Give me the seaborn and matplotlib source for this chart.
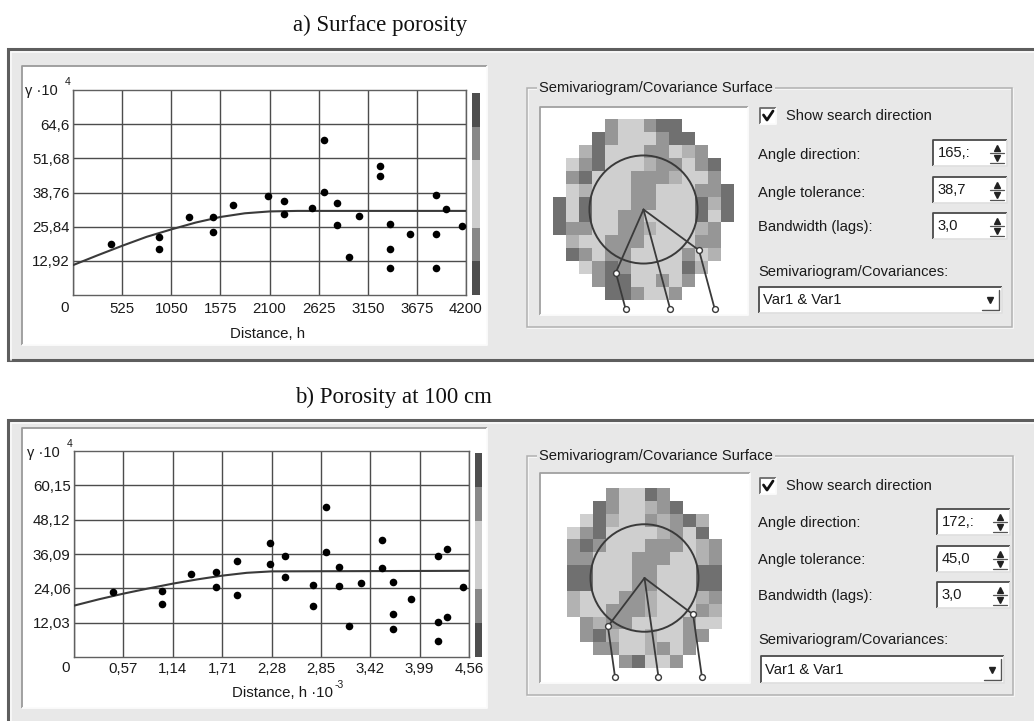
"""Semivariogramas de porosidad (superficie y 100 cm) con el panel de superficie de covarianza."""

import matplotlib

matplotlib.use("Agg")
import matplotlib.pyplot as plt
import numpy as np
import seaborn as sns
from matplotlib.colors import ListedColormap
from matplotlib.patches import Circle, Rectangle

W, H = 1034, 721

# ---------------- a) Surface porosity ----------------
dist_a = [406, 922, 922, 1240, 1500, 1500, 1713, 2080, 2255, 2255, 2551, 2686, 2686, 2818,
          2818, 2946, 3056, 3281, 3281, 3391, 3391, 3391, 3598, 3880, 3880, 3880, 3983, 4154]
gamma_a = [19.3, 22.1, 17.5, 29.5, 29.5, 23.7, 33.9, 37.3, 35.7, 30.5, 32.8, 58.6, 38.9, 34.9,
           26.3, 14.2, 29.9, 48.7, 45.1, 27.0, 17.5, 10.2, 23.2, 37.7, 23.2, 10.2, 32.6, 26.1]
model_dist_a = [0, 262, 525, 787, 1050, 1312, 1575, 1837, 2100, 2400, 4200]
model_gamma_a = [11.3, 15.0, 18.6, 22.0, 24.8, 27.4, 29.5, 30.9, 31.6, 31.8, 31.8]
xticks_a = [0, 525, 1050, 1575, 2100, 2625, 3150, 3675, 4200]
xticklabels_a = ["", "525", "1050", "1575", "2100", "2625", "3150", "3675", "4200"]
yticks_a = [12.92, 25.84, 38.76, 51.68, 64.6]
yticklabels_a = ["12,92", "25,84", "38,76", "51,68", "64,6"]
ymax_a = 77.52
surface_a = [
    "....311344....",
    "...43111344...",
    "..2411133123..",
    ".134111233134.",
    ".341113332113.",
    ".1211133111334",
    "41411133111424",
    "41411331111414",
    "4331133211123.",
    ".211333111133.",
    ".431331111312.",
    "..1343111142..",
    "...34411313...",
    "....443113....",
]
angle_dir_a, angle_tol_a = 165.0, 38.7
spin_text_a = ["165,:", "38,7", "3,0"]

# ---------------- b) Porosity at 100 cm ----------------
dist_b = [0.446, 1.011, 1.011, 1.353, 1.634, 1.634, 1.876, 1.876, 2.268, 2.268, 2.441, 2.441,
          2.761, 2.761, 2.907, 2.907, 3.064, 3.064, 3.180, 3.318, 3.560, 3.560, 3.683, 3.683,
          3.683, 3.891, 4.202, 4.202, 4.202, 4.306, 4.306, 4.491]
gamma_b = [22.7, 23.3, 18.5, 29.1, 29.9, 24.4, 33.8, 21.8, 40.0, 32.6, 35.4, 27.9,
           25.3, 18.0, 52.5, 36.8, 31.7, 24.9, 10.7, 25.8, 41.0, 31.3, 26.4, 15.0,
           9.8, 20.3, 35.4, 12.3, 5.6, 37.8, 13.9, 24.4]
model_dist_b = [0, 0.285, 0.57, 0.855, 1.14, 1.425, 1.71, 1.995, 2.28, 4.56]
model_gamma_b = [18.0, 20.2, 22.2, 24.0, 25.7, 27.2, 28.5, 29.5, 30.0, 30.2]
xticks_b = [0, 0.57, 1.14, 1.71, 2.28, 2.85, 3.42, 3.99, 4.56]
xticklabels_b = ["", "0,57", "1,14", "1,71", "2,28", "2,85", "3,42", "3,99", "4,56"]
yticks_b = [12.03, 24.06, 36.09, 48.12, 60.15]
yticklabels_b = ["12,03", "24,06", "36,09", "48,12", "60,15"]
ymax_b = 72.18
surface_b = [
    "...31143....",
    "..4311234...",
    ".1421132342.",
    "13411112314.",
    "343111333123",
    "331113331123",
    "441113311144",
    "441113311144",
    "211133211123",
    "211333211132",
    ".32331111311",
    ".3421121133.",
    "..33112313..",
    "....34113...",
]
angle_dir_b, angle_tol_b = 172.0, 45.0
spin_text_b = ["172,:", "45,0", "3,0"]

# escala de grises (1 claro -> 4 oscuro) y barra lateral de la leyenda
surface_greys = ["#cfcfcf", "#b2b2b2", "#969696", "#707070"]
strip_levels = [3, 2, 1, 1, 2, 3]
strip_greys = ["#cdcdcd", "#888888", "#4e4e4e"]

PANEL_BG = "#e8e8e8"
INK = "#1a1a1a"
LINE = "#3a3a3a"

# geometria de la ventana en pixeles (x0, y0, x1, y1)
LAYOUT = {
    "a": dict(title="a) Surface porosity", title_xy=(293, 25), frame=(8, 49, 1045, 360),
              white=(22, 66, 487, 345), plot=(73, 90, 466, 295), strip=(472, 93, 480, 295),
              gbox=(527, 88, 1012, 327), surf_box=(540, 107, 748, 315), surf=(553, 119, 734, 300),
              check_y=116, label_ys=(155, 193, 227, 272), spin_ys=(140, 177, 213),
              spin_x=(933, 1007), combo=(759, 287, 1002, 313), zero_xy=(65, 308),
              xlabel_xy=(268, 334), gamma_xy=(25, 91), tick_pad=5.0),
    "b": dict(title="b) Porosity at 100 cm", title_xy=(295, 397), frame=(8, 420, 1045, 740),
              white=(22, 428, 487, 708), plot=(74, 451, 469, 657), strip=(475, 453, 482, 657),
              gbox=(527, 456, 1013, 695), surf_box=(540, 473, 750, 683), surf=(567, 488, 722, 668),
              check_y=486, label_ys=(523, 560, 596, 640), spin_ys=(509, 546, 582),
              spin_x=(937, 1010), combo=(761, 656, 1004, 683), zero_xy=(66, 668),
              xlabel_xy=(282, 693), gamma_xy=(27, 453), tick_pad=3.6),
}

SEARCH_RADIUS = 4.18  # celdas
BAND_HALF = 3.33      # celdas
LINE_DEPTH = 7.68     # celdas bajo el centro

sns.set_style("white")
plt.rcParams["font.family"] = ["Liberation Sans", "DejaVu Sans"]

fig = plt.figure(figsize=(W / 100, H / 100), dpi=100)
fig.patch.set_facecolor("white")
bg = fig.add_axes([0, 0, 1, 1])
bg.set_xlim(0, W)
bg.set_ylim(H, 0)
bg.axis("off")


def px_axes(box):
    x0, y0, x1, y1 = box
    return fig.add_axes([x0 / W, 1 - y1 / H, (x1 - x0) / W, (y1 - y0) / H])


def sunken(box, face="white", dark="#8a8a8a", light="#fbfbfb", lw=1.3):
    x0, y0, x1, y1 = box
    bg.add_patch(Rectangle((x0, y0), x1 - x0, y1 - y0, facecolor=face, edgecolor="none"))
    bg.plot([x0, x0, x1], [y1, y0, y0], color=dark, lw=lw, solid_capstyle="butt")
    bg.plot([x0, x1, x1], [y1, y1, y0], color=light, lw=lw, solid_capstyle="butt")


def parse_surface(rows):
    return np.array([[np.nan if ch == "." else float(ch) for ch in r] for r in rows])


def draw_search(ax, n_rows, n_cols, azimuth, tolerance):
    cx, cy = n_cols / 2, n_rows / 2
    ax.add_patch(Circle((cx, cy), SEARCH_RADIUS, fill=False, edgecolor=LINE, lw=1.4, clip_on=False))
    th = np.radians(azimuth)
    d = np.array([np.sin(th), -np.cos(th)])
    end_y = cy + LINE_DEPTH
    mk = dict(marker="o", markersize=4.2, markerfacecolor="white", markeredgecolor=LINE,
              markeredgewidth=1.0, clip_on=False)
    t = LINE_DEPTH / d[1]
    ax.plot([cx, cx + t * d[0]], [cy, end_y], color=LINE, lw=1.3, markevery=[1], **mk)
    length = BAND_HALF / np.sin(np.radians(tolerance))
    for sign in (1, -1):
        a = np.radians(azimuth + sign * tolerance)
        px, py = cx + length * np.sin(a), cy - length * np.cos(a)
        t = (end_y - py) / d[1]
        ax.plot([cx, px, px + t * d[0]], [cy, py, end_y], color=LINE, lw=1.3,
                markevery=[1, 2], **mk)


def draw_panel(L, dist, gamma, mdist, mgamma, xticks, xlabels, yticks, ylabels, ymax,
               surface, azimuth, tolerance, spin_text, sup_text, xlabel):
    # marco de la ventana
    fx0, fy0, fx1, fy1 = L["frame"]
    bg.add_patch(Rectangle((fx0, fy0), fx1 - fx0, fy1 - fy0, facecolor=PANEL_BG,
                           edgecolor="#5e5e5e", lw=2.2))
    bg.plot([fx0 + 3, fx0 + 3, fx1], [fy1, fy0 + 3, fy0 + 3], color="#fafafa", lw=1.2)
    bg.text(*L["title_xy"], L["title"], family=["Liberation Serif", "DejaVu Serif"],
            fontsize=16.5, color="#111111", ha="left", va="center")

    sunken(L["white"], dark="#9a9a9a")

    # semivariograma
    ax = px_axes(L["plot"])
    sns.scatterplot(x=dist, y=gamma, color="black", s=30, linewidth=0, ax=ax, zorder=4)
    sns.lineplot(x=mdist, y=mgamma, color="#3a3a3a", lw=1.5, ax=ax, zorder=3)
    ax.set_xlim(xticks[0], xticks[-1])
    ax.set_ylim(0, ymax)
    ax.set_xticks(xticks)
    ax.set_xticklabels(xlabels)
    ax.set_yticks(yticks)
    ax.set_yticklabels(ylabels)
    ax.tick_params(axis="x", length=0, pad=L["tick_pad"], labelsize=10.8, labelcolor=INK)
    ax.tick_params(axis="y", length=0, pad=2.5, labelsize=10.8, labelcolor=INK)
    ax.grid(True, color="#4c4c4c", lw=1.0)
    ax.set_axisbelow(True)
    for sp in ax.spines.values():
        sp.set_color("#606060")
        sp.set_linewidth(1.0)
    ax.set_xlabel("")
    ax.set_ylabel("")
    bg.text(*L["zero_xy"], "0", fontsize=10.8, color=INK, ha="center", va="center")
    gx, gy = L["gamma_xy"]
    bg.text(gx, gy, "γ ·10", fontsize=10.5, color=INK, ha="left", va="center")
    bg.text(gx + 40, gy - 9, "4", fontsize=7.5, color=INK, ha="left", va="center")
    lx, ly = L["xlabel_xy"]
    bg.text(lx, ly, xlabel, fontsize=10.8, color=INK, ha="center", va="center")
    if sup_text:
        bg.text(lx + 53, ly - 8, sup_text, fontsize=7.5, color=INK, ha="left", va="center")

    # barra de leyenda
    sax = px_axes(L["strip"])
    sns.heatmap(np.array(strip_levels, dtype=float).reshape(-1, 1),
                cmap=ListedColormap(strip_greys), vmin=0.5, vmax=3.5, cbar=False,
                xticklabels=False, yticklabels=False, ax=sax)

    # grupo "Semivariogram/Covariance Surface"
    gx0, gy0, gx1, gy1 = L["gbox"]
    bg.add_patch(Rectangle((gx0 + 1, gy0 + 1), gx1 - gx0, gy1 - gy0, fill=False,
                           edgecolor="#fbfbfb", lw=1.1))
    bg.add_patch(Rectangle((gx0, gy0), gx1 - gx0, gy1 - gy0, fill=False,
                           edgecolor="#b0b0b0", lw=1.1))
    bg.text(gx0 + 12, gy0, "Semivariogram/Covariance Surface", fontsize=10.6, color=INK,
            ha="left", va="center",
            bbox=dict(facecolor=PANEL_BG, edgecolor="none", pad=1.5))

    sunken(L["surf_box"], dark="#a0a0a0")
    grid = parse_surface(surface)
    hax = px_axes(L["surf"])
    sns.heatmap(grid, cmap=ListedColormap(surface_greys), vmin=0.5, vmax=4.5, cbar=False,
                xticklabels=False, yticklabels=False, ax=hax)
    hax.set_facecolor("none")
    hax.patch.set_alpha(0)
    draw_search(hax, grid.shape[0], grid.shape[1], azimuth, tolerance)

    # controles
    cy = L["check_y"]
    sunken((760, cy - 8, 776, cy + 8), dark="#6a6a6a")
    bg.plot([763.5, 767, 773], [cy - 1, cy + 4, cy - 5], color="#111111", lw=2.0)
    bg.text(786, cy, "Show search direction", fontsize=10.6, color=INK, ha="left", va="center")
    names = ["Angle direction:", "Angle tolerance:", "Bandwidth (lags):",
             "Semivariogram/Covariances:"]
    for name, y in zip(names, L["label_ys"]):
        bg.text(758, y, name, fontsize=10.6, color=INK, ha="left", va="center")
    sx0, sx1 = L["spin_x"]
    for txt, y0 in zip(spin_text, L["spin_ys"]):
        sunken((sx0, y0, sx1, y0 + 26), dark="#4a4a4a", light="#e0e0e0")
        mid = y0 + 13
        bg.text(sx0 + 5, mid, txt, fontsize=10.6, color=INK, ha="left", va="center")
        ax_ = sx1 - 10
        bg.plot([ax_], [mid - 5], marker="^", markersize=4.5, color="#222222")
        bg.plot([ax_], [mid + 5], marker="v", markersize=4.5, color="#222222")
        bg.plot([ax_ - 7, ax_ + 7], [mid, mid], color="#555555", lw=0.9)
        bg.plot([ax_ - 7, ax_ + 7], [mid + 10, mid + 10], color="#555555", lw=0.9)
    cx0, cy0, cx1, cy1 = L["combo"]
    sunken((cx0, cy0, cx1, cy1), dark="#4a4a4a", light="#e0e0e0")
    bg.text(cx0 + 4, (cy0 + cy1) / 2, "Var1 & Var1", fontsize=10.6, color=INK,
            ha="left", va="center")
    bg.plot([cx1 - 12], [(cy0 + cy1) / 2], marker="v", markersize=5, color="#222222")
    bg.plot([cx1 - 20, cx1 - 3, cx1 - 3], [cy1 - 3, cy1 - 3, cy0 + 3], color="#555555", lw=1.0)


draw_panel(LAYOUT["a"], dist_a, gamma_a, model_dist_a, model_gamma_a, xticks_a, xticklabels_a,
           yticks_a, yticklabels_a, ymax_a, surface_a, angle_dir_a, angle_tol_a, spin_text_a,
           None, "Distance, h")
draw_panel(LAYOUT["b"], dist_b, gamma_b, model_dist_b, model_gamma_b, xticks_b, xticklabels_b,
           yticks_b, yticklabels_b, ymax_b, surface_b, angle_dir_b, angle_tol_b, spin_text_b,
           "-3", "Distance, h ·10")

fig.savefig("out.png", dpi=100)
